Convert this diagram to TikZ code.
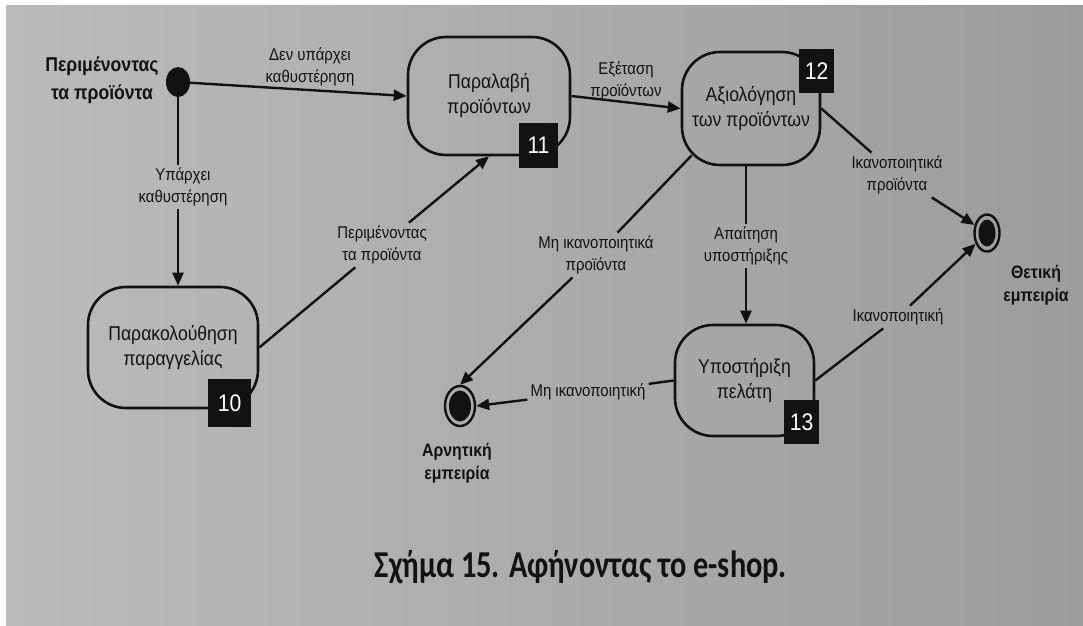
\documentclass[tikz,border=0pt]{standalone}
\usepackage{fontspec}
\usepackage{graphicx}
\setmainfont{Liberation Sans}[FakeStretch=0.88]
\newfontfamily\capfont{Carlito}
\usetikzlibrary{shapes.geometric,arrows.meta,calc}
\definecolor{ink}{HTML}{121212}
\definecolor{paperL}{HTML}{BBBBBB}
\definecolor{paperR}{HTML}{9C9C9C}

\begin{document}
\begin{tikzpicture}[x=1pt,y=-1pt,
  statebox/.style={draw=ink, line width=2.6pt, rounded corners=38pt, align=center,
    font=\fontsize{20}{25}\selectfont, text=ink, inner sep=0pt},
  badge/.style={fill=ink, text=white, font=\fontsize{24}{24}\selectfont, inner sep=0pt},
  lbl/.style={align=center, font=\fontsize{17}{22}\selectfont, text=ink, inner sep=3pt},
  title/.style={align=center, font=\bfseries\fontsize{20}{28}\selectfont, text=ink},
  endlbl/.style={align=center, font=\bfseries\fontsize{18}{23}\selectfont, text=ink},
  flow/.style={draw=ink, line width=2.4pt},
  arr/.style={flow, -{Triangle[length=13pt,width=11pt]}},
  final/.style={ellipse, draw=ink, line width=2.4pt, inner sep=0pt},
]
\useasboundingbox (0,0) rectangle (1083,625);
% page background
\fill[white] (0,0) rectangle (1083,625);
\shade[left color=paperL, right color=paperR] (6,5) rectangle (1083,625);

% initial state
\node[ellipse, fill=ink, minimum width=24pt, minimum height=30pt, inner sep=0pt] (start) at (178,82) {};
\node[title] (startlbl) at (102,80) {Περιμένοντας\\τα προϊόντα};

% states
\node[statebox, minimum width=162pt, minimum height=118pt] (recv) at (489,96) {Παραλαβή\\προϊόντων};
\node[statebox, minimum width=138pt, minimum height=113pt] (eval) at (751,108.5) {Αξιολόγηση\\των προϊόντων};
\node[statebox, minimum width=139pt, minimum height=111pt] (sup) at (744.5,380.5) {Υποστήριξη\\πελάτη};
\node[statebox, minimum width=170pt, minimum height=121pt] (track) at (173,347.5) {Παρακολούθηση\\παραγγελίας};

% numbered tags
\node[badge, minimum width=43pt, minimum height=48pt] (b10) at (229.5,403) {10};
\node[badge, minimum width=39pt, minimum height=45pt] (b11) at (538.5,145.5) {11};
\node[badge, minimum width=35pt, minimum height=44pt] (b12) at (816.5,71) {12};
\node[badge, minimum width=35pt, minimum height=44pt] (b13) at (801.5,422) {13};

% final states
\node[final, minimum width=25pt, minimum height=37pt] (pos) at (987,233) {};
\fill[ink] (pos.center) ellipse [x radius=8.5pt, y radius=13.5pt];
\node[endlbl] (poslbl) at (1036,285) {Θετική\\εμπειρία};
\node[final, minimum width=30pt, minimum height=40pt] (neg) at (460,406) {};
\fill[ink] (neg.center) ellipse [x radius=11pt, y radius=15.5pt];
\node[endlbl] (neglbl) at (457,463) {Αρνητική\\εμπειρία};

% transition labels
\node[lbl] (lNoDelay) at (310,67) {Δεν υπάρχει\\καθυστέρηση};
\node[lbl] (lDelay) at (183,187) {Υπάρχει\\καθυστέρηση};
\node[lbl] (lWait) at (382,245) {Περιμένοντας\\τα προϊόντα};
\node[lbl] (lExam) at (626,81) {Εξέταση\\προϊόντων};
\node[lbl] (lSat) at (897,175) {Ικανοποιητικά\\προϊόντα};
\node[lbl] (lNeed) at (746,246) {Απαίτηση\\υποστήριξης};
\node[lbl] (lUnsat) at (596,255) {Μη ικανοποιητικά\\προϊόντα};
\node[lbl] (lSatS) at (898,317) {Ικανοποιητική};
\node[lbl] (lUnsatS) at (588,392) {Μη ικανοποιητική};

% transitions
\draw[arr] (start) -- (recv.west);
\draw[flow] (start) -- (start |- lDelay.north);
\draw[arr] (start |- lDelay.south) -- (start |- track.north);
\draw[flow] (track.east) -- (lWait);
\draw[arr] (lWait) -- (recv.south);
\draw[arr] (recv.east) -- (eval.west);
\draw[flow] (eval.east) -- (lSat);
\draw[arr] (lSat) -- (pos);
\draw[flow] (lNeed |- eval.south) -- (lNeed);
\draw[arr] (lNeed) -- (lNeed |- sup.north);
\draw[flow] ($(eval.south west)+(11,-11)$) -- (lUnsat);
\draw[arr] (lUnsat) -- (neg.north);
\draw[flow] (sup.west) -- (lUnsatS);
\draw[arr] (lUnsatS) -- (neg.east);
\draw[flow] (sup.east) -- (lSatS);
\draw[arr] (lSatS) -- (pos);

% caption
\node[text=ink, anchor=base, inner sep=0pt] (caption) at (581,577)
  {\resizebox{412pt}{\height}{\capfont\bfseries\fontsize{38}{38}\selectfont Σχήμα 15. Αφήνοντας το e-shop.}};
\end{tikzpicture}
\end{document}
